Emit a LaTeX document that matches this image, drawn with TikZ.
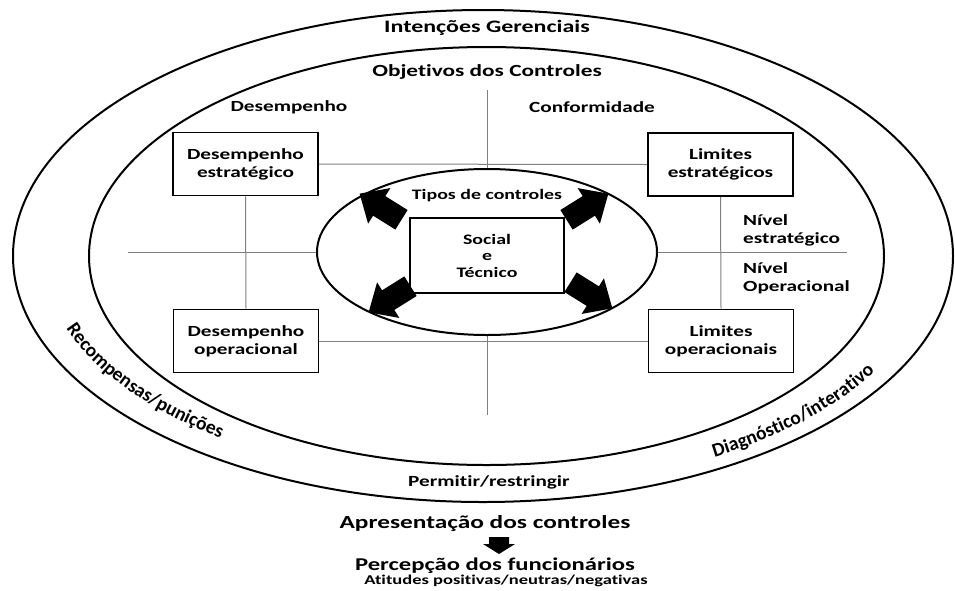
\documentclass[tikz,border=0pt]{standalone}
\usepackage{fontspec}
\setmainfont{Carlito}[FakeStretch=1.37, Ligatures=NoCommon]
\newfontfamily\arcfont{Carlito}[Ligatures=NoCommon]
\usetikzlibrary{calc,decorations.text}
\newcommand\fsz[2]{\fontsize{#1}{#2}\selectfont\bfseries}
\begin{document}
\begin{tikzpicture}[x=1pt,y=1pt,
  ring/.style={draw=black, line width=2pt},
  axis/.style={draw=gray, line width=1pt},
  ctlbox/.style={draw=black, line width=1.6pt, fill=white, align=center,
    minimum width=145pt, minimum height=63pt, inner sep=0pt, font=\fsz{15.5}{18}},
  lbl/.style={inner sep=0pt, align=center, font=\fsz{15.5}{18}},
  blockarrow/.pic={\fill[black] (-23,-11) -- (2,-11) -- (2,-20) -- (24,0) -- (2,20) -- (2,11) -- (-23,11) -- cycle;}
]
\fill[white] (0,0) rectangle (955,-590);
\useasboundingbox (0,0) rectangle (955,-590);

% outer and middle rings
\draw[ring] (483,-256) ellipse [x radius=470, y radius=246];
\draw[ring] (486.5,-256) ellipse [x radius=397.5, y radius=209];

% quadrant boxes
\node[ctlbox] (de) at (245.5,-164) {Desempenho\\estratégico};
\node[ctlbox] (le) at (720.5,-164.5) {Limites\\estratégicos};
\node[ctlbox] (do) at (246,-341) {Desempenho\\operacional};
\node[ctlbox] (lo) at (721,-341) {Limites\\operacionais};

% axes and links between boxes
\coordinate (vtop) at (487,-90);
\coordinate (vbot) at (487,-415);
\coordinate (hleft) at (128,-252);
\coordinate (hright) at (847,-252);
\draw[axis] (vtop) -- (vbot);
\draw[axis] (hleft) -- (hright);
\draw[axis] (de.east) -- (le.west);
\draw[axis] (do.east) -- (lo.west);
\draw[axis] (de.south) -- (do.north);
\draw[axis] (le.south) -- (lo.north);

% inner ring with the control types
\draw[ring, fill=white] (487,-252) ellipse [x radius=170, y radius=83];
\node[draw=black, line width=1.6pt, fill=white, minimum width=154pt, minimum height=75pt,
  inner sep=0pt, align=center, font=\fsz{14.5}{16.5}] (st) at (487,-255.5) {Social\\e\\Técnico};
\node[lbl, font=\fsz{14.5}{16}] (tipos) at (487,-196) {Tipos de controles};
\pic[scale=1.05, rotate=148] at (381,-207) {blockarrow};
\pic[scale=1.05, rotate=32] at (587,-207) {blockarrow};
\pic[scale=1.05, rotate=212] at (390,-299) {blockarrow};
\pic[scale=1.05, rotate=328] at (591,-295) {blockarrow};

% headings
\node[lbl, font=\fsz{17.5}{20}] (ig) at (487,-28) {Intenções Gerenciais};
\node[lbl, font=\fsz{17}{20}] (oc) at (487,-72) {Objetivos dos Controles};
\node[lbl] (desemp) at (289,-107) {Desempenho};
\node[lbl] (conf) at (592,-107) {Conformidade};
\node[lbl, anchor=west, align=left] (ne) at (743,-230.5) {Nível\\estratégico};
\node[lbl, anchor=west, align=left] (no) at (743,-278.5) {Nível\\Operacional};
\node[lbl] (pr) at (489,-482) {Permitir/restringir};

% curved labels between the rings
\coordinate (ec) at (485,-256);
\path[decorate, decoration={text along path, text align=center,
  text={|\arcfont\fsz{19.5}{22}|Recompensas/punições}}]
  ($(ec)+(179:442 and 227)$) arc[start angle=179, end angle=245, x radius=442, y radius=227];
\path[decorate, decoration={text along path, text align=center,
  text={|\arcfont\fsz{19.5}{22}|Diagnóstico/interativo}}]
  ($(ec)+(-73:449 and 234)$) arc[start angle=-73, end angle=-8, x radius=449, y radius=234];

% presentation and perception
\node[lbl, font=\fsz{18.5}{21}] (ap) at (485,-524) {Apresentação dos controles};
\node[lbl, font=\fsz{18}{21}] (pf) at (495,-566) {Percepção dos funcionários};
\node[lbl, font=\fsz{13.5}{16}] (at) at (506,-581) {Atitudes positivas/neutras/negativas};
\fill[black] (489,-537) -- (509,-537) -- (509,-544) -- (515,-544) -- (499,-554) -- (483,-544) -- (489,-544) -- cycle;
\end{tikzpicture}
\end{document}
